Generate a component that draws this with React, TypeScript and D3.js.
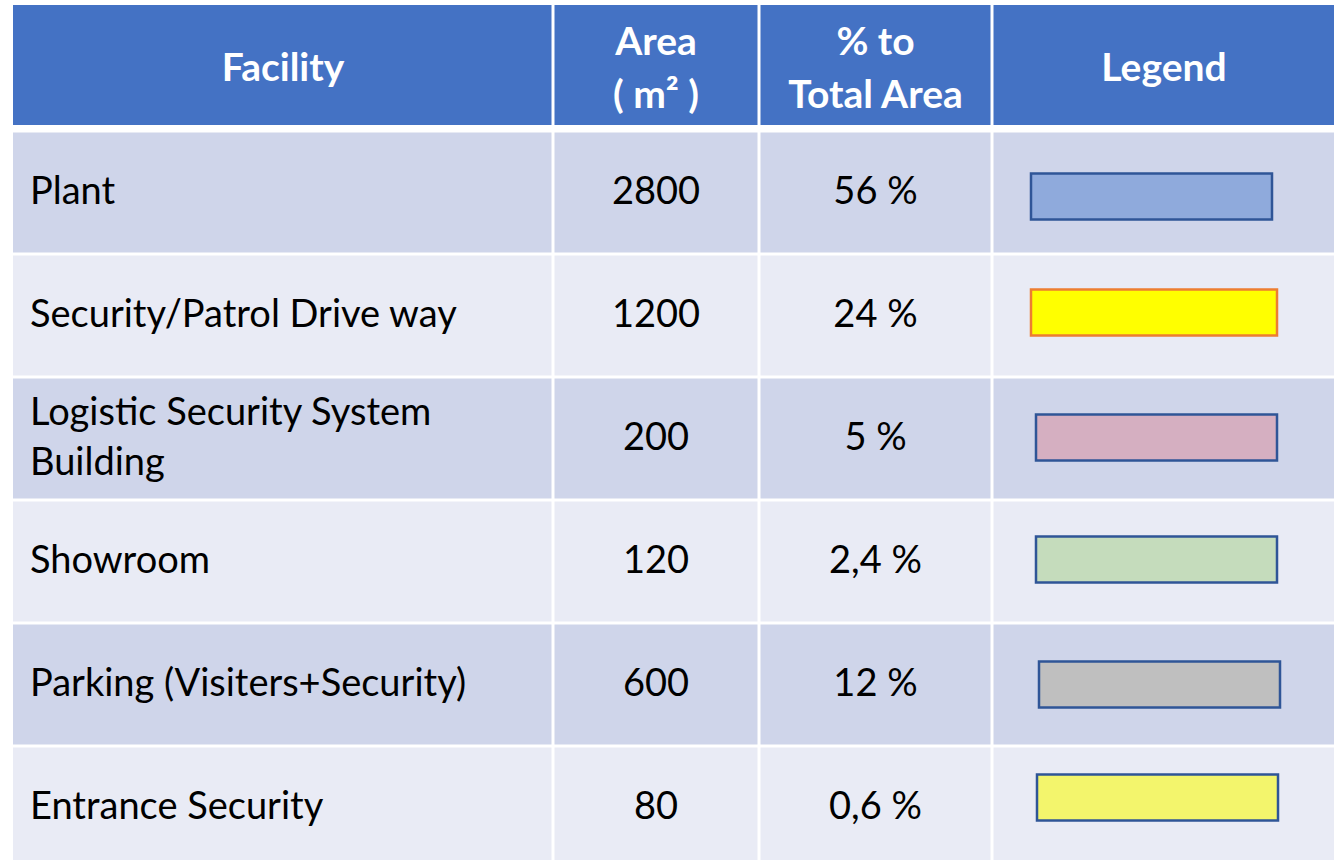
import React from 'react';
import * as d3 from 'd3';

// table content
const headers: string[][] = [['Facility'], ['Area', '( m² )'], ['% to', 'Total Area'], ['Legend']];
const facilities: string[][] = [
  ['Plant'],
  ['Security/Patrol Drive way'],
  ['Logistic Security System', 'Building'],
  ['Showroom'],
  ['Parking (Visiters+Security)'],
  ['Entrance Security'],
];
const areas: number[] = [2800, 1200, 200, 120, 600, 80];
const percents: string[] = ['56 %', '24 %', '5 %', '2,4 %', '12 %', '0,6 %'];
const swatchFill: string[] = ['#8FAADC', '#FFFF00', '#D5AFC1', '#C5DCBC', '#BFBFBF', '#F3F56C'];
const swatchStroke: string[] = ['#2F5597', '#ED7D31', '#2F5597', '#2F5597', '#2F5597', '#2F5597'];

const W = 1334;
const H = 860;
const colEdges = [13, 553, 759, 992, W + 2];
const headerTop = 5;
const headerBottom = 127;
const FONT = 'Lato, "Open Sans", sans-serif';
// hand-placed legend boxes drift a little in the slide: [x, dy, width]
const swatchLayout: [number, number, number][] = [
  [1031, 6, 241], [1031, -1, 246], [1036, 1, 241], [1036, 0, 241], [1039, 2, 241], [1037, -8, 241],
];

const App: React.FC = () => {
  const rows = d3.range(facilities.length);
  const y = d3.scaleBand<number>().domain(rows).range([131, 869]).paddingInner(0);
  const gap = 1.5;

  const colMid = (i: number) => (colEdges[i] + colEdges[i + 1]) / 2;

  const cellText = (lines: string[], cx: number, cy: number, anchor: string, lineH: number, props: any) => {
    const n = lines.length;
    return lines.map((t, k) => (
      <text key={k} x={cx} y={cy + (k - (n - 1) / 2) * lineH + 13} textAnchor={anchor} {...props}>{t}</text>
    ));
  };

  return (
    <svg width={W} height={H} style={{ position: 'absolute', left: 0, top: 0, background: '#fff' }}>
      {/* header */}
      {headers.map((h, i) => (
        <g key={'h' + i}>
          <rect x={colEdges[i] + (i === 0 ? 0 : gap)} y={headerTop}
            width={colEdges[i + 1] - colEdges[i] - (i === 0 ? gap : 2 * gap)}
            height={headerBottom - headerTop - 2} fill="#4472C4" />
          {cellText(h, colMid(i), (headerTop + headerBottom) / 2 + 2, 'middle', 53, {
            fill: '#fff', fontFamily: FONT, fontWeight: 700, fontSize: 39,
          })}
        </g>
      ))}
      {/* body */}
      {rows.map(r => {
        const top = y(r)!;
        const bottom = r === rows.length - 1 ? H + 5 : top + y.bandwidth();
        const cy = top + y.bandwidth() / 2 - 2;
        const fill = r % 2 === 0 ? '#CFD5EA' : '#E9EBF5';
        const textProps = { fill: '#000', fontFamily: FONT, fontSize: 38 };
        const [sx, sdy, sw] = swatchLayout[r];
        return (
          <g key={'r' + r}>
            {colEdges.slice(0, -1).map((x0, i) => (
              <rect key={i} x={x0 + (i === 0 ? 0 : gap)} y={top + gap}
                width={colEdges[i + 1] - x0 - (i === 0 ? gap : 2 * gap)}
                height={bottom - top - 2 * gap} fill={fill} />
            ))}
            {cellText(facilities[r], 30, cy, 'start', 50, textProps)}
            {cellText([String(areas[r])], colMid(1), cy, 'middle', 50, textProps)}
            {cellText([percents[r]], colMid(2), cy, 'middle', 50, textProps)}
            <rect x={sx} y={cy - 23 + sdy} width={sw} height={46}
              fill={swatchFill[r]} stroke={swatchStroke[r]} strokeWidth={2.5} />
          </g>
        );
      })}
    </svg>
  );
};

export default App;
